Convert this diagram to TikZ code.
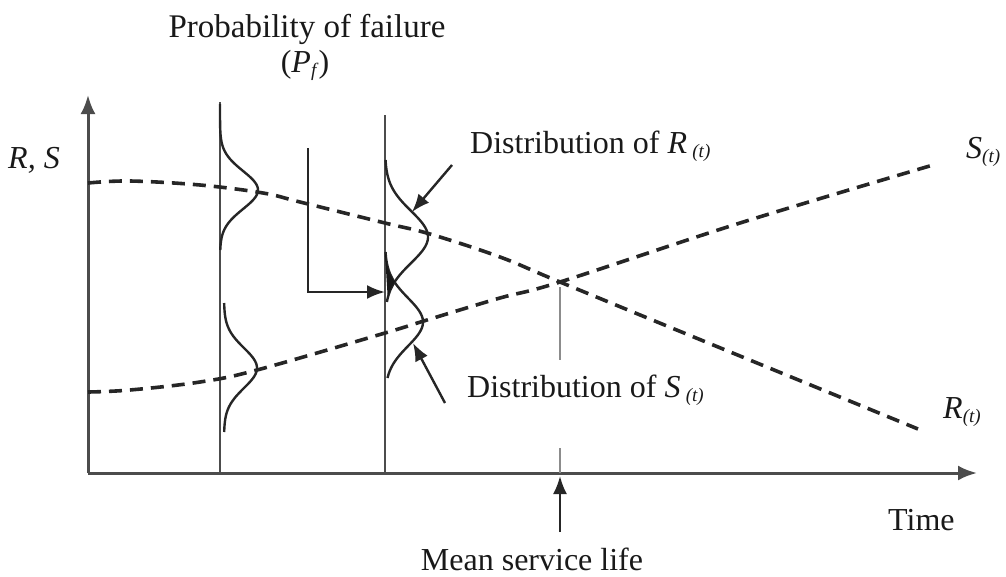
\documentclass[tikz,border=0pt]{standalone}
\usepackage{fontspec}
\setmainfont{Liberation Serif}
\usetikzlibrary{arrows.meta}
% small lowered italic index, e.g. the (t) of R(t)
\newcommand\idx[1]{\raisebox{-4pt}{\fontsize{19}{19}\selectfont\textit{#1}}}
\begin{document}
\begin{tikzpicture}[x=1pt,y=-1pt,
  axis/.style={line width=3pt, draw=black!70},
  guide/.style={line width=2.6pt, draw=black!70},
  thinguide/.style={line width=1.6pt, draw=black!45},
  trend/.style={line width=3.6pt, dash pattern=on 13pt off 8pt, draw=black!85},
  bell/.style={line width=2.4pt, draw=black!85},
  pointer/.style={line width=2.4pt, draw=black!85, -{Latex[length=18pt,width=14pt]}},
  lbl/.style={font=\fontsize{32}{36}\selectfont, inner sep=0pt, text=black!90},
]
\useasboundingbox (0,0) rectangle (1006,576);

% reference points
\coordinate (O) at (88,473);
\coordinate (ytip) at (88,95);
\coordinate (xtip) at (977,473);
\coordinate (c1t) at (220,102);
\coordinate (c1b) at (220,473);
\coordinate (c2t) at (385,115);
\coordinate (c2b) at (385,473);
\coordinate (pfs) at (308,148);
\coordinate (pfe) at (385,292);
\coordinate (ra) at (452,165);
\coordinate (rb) at (412,212);
\coordinate (sa) at (445,403);
\coordinate (sb) at (413,343);
\coordinate (g1) at (560,287);
\coordinate (g2) at (560,360);
\coordinate (g3) at (560,448);
\coordinate (g4) at (560,473);
\coordinate (ma) at (560,532);
\coordinate (mb) at (560,476);

% axes
\draw[axis, -{Latex[length=19pt,width=15pt]}] (O) -- (ytip);
\draw[axis, -{Latex[length=19pt,width=15pt]}] (O) -- (xtip);

% time sections
\draw[guide] (c1b) -- (c1t);
\draw[guide] (c2b) -- (c2t);

% mean service life marker
\draw[thinguide] (g1) -- (g2);
\draw[thinguide] (g3) -- (g4);

% resistance and load trends
\draw[trend] plot[smooth, tension=0.6] coordinates {(88,183) (130,181) (200,185) (263,193) (300,202) (385,223) (430,234) (500,257) (560,282) (740,356) (918,429)};
\draw[trend] plot[smooth, tension=0.6] coordinates {(88,392) (130,390) (200,382) (257,370) (385,333) (427,320) (500,298) (560,282) (740,223) (933,165)};

% distributions at the first section
\draw[bell] plot[domain=104:250, samples=70, smooth] ({220+38*exp(-((\x-190)/19)^2/2)}, \x);
\draw[bell] plot[domain=303:432, samples=70, smooth] ({224+33*exp(-((\x-368)/20)^2/2)}, \x);

% distributions at the second section
\draw[bell] plot[domain=160:302, samples=70, smooth] ({385+43*exp(-((\x-237)/26)^2/2)}, \x);
\draw[bell] plot[domain=252:378, samples=70, smooth] ({385+38*exp(-((\x-322)/24)^2/2)}, \x);
% overlap region (failure)
\fill[black!90] (385,254)
  -- plot[domain=254:281, samples=20] ({385+38*exp(-((\x-322)/24)^2/2)}, \x)
  -- plot[domain=281:298, samples=10] ({385+43*exp(-((\x-237)/26)^2/2)}, \x)
  -- cycle;

% pointers
\draw[pointer] (pfs) |- (pfe);
\draw[pointer] (ra) -- (rb);
\draw[pointer] (sa) -- (sb);
\draw[pointer] (ma) -- (mb);

% labels
\node[lbl, anchor=base, font=\fontsize{33}{36}\selectfont] (pf1) at (307,37) {Probability of failure};
\node[lbl, anchor=base] (pf2) at (305,72) {(\textit{P}\idx{f})};
\node[lbl, anchor=base west] (rs) at (8,168) {\textit{R, S}};
\node[lbl, anchor=base west] (distR) at (470,153) {Distribution of \textit{R}\,\idx{(t)}};
\node[lbl, anchor=base west] (distS) at (467,397) {Distribution of \textit{S}\,\idx{(t)}};
\node[lbl, anchor=base west] (slab) at (966,158) {\textit{S}\idx{(t)}};
\node[lbl, anchor=base west] (rlab) at (943,418) {\textit{R}\idx{(t)}};
\node[lbl, anchor=base west] (time) at (888,530) {Time};
\node[lbl, anchor=base] (msl) at (532,570) {Mean service life};
\end{tikzpicture}
\end{document}
